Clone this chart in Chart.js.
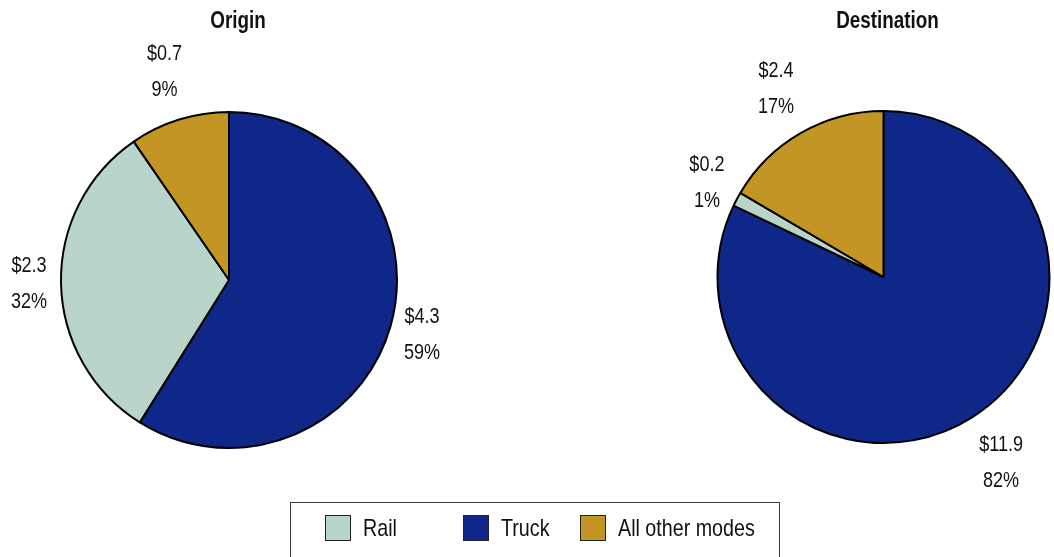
<!DOCTYPE html>
<html><head><meta charset="utf-8">
<script src="https://cdn.jsdelivr.net/npm/chart.js@4.4.0/dist/chart.umd.min.js"></script>
<style>
html,body{margin:0;padding:0;background:#fff;width:1054px;height:557px;overflow:hidden;}
#c1{position:absolute;left:0;top:0;}
#c2{position:absolute;left:527px;top:0;}
#legend{position:absolute;left:290px;top:502px;width:490px;height:70px;border:1px solid #3a3a3a;box-sizing:border-box;
 font-family:"Liberation Sans Narrow","Arial Narrow","Liberation Sans",sans-serif;font-size:24px;color:#111;}
.item{position:absolute;top:12px;height:28px;line-height:28px;}
.sw{position:absolute;left:0;top:0;width:26px;height:26px;border:1px solid #222;box-sizing:border-box;}
.lbl{position:absolute;left:38px;top:-1px;white-space:nowrap;transform:scaleX(0.82);transform-origin:0 50%;}
</style></head>
<body>
<canvas id="c1" width="527" height="557"></canvas>
<canvas id="c2" width="527" height="557"></canvas>
<div id="legend"></div>
<script>
// Data
const modes = ["Truck", "Rail", "All other modes"];
const legendOrder = ["Rail", "Truck", "All other modes"];
const originValues = [4.3, 2.3, 0.7];
const originPct = ["59%", "32%", "9%"];
const destValues = [11.9, 0.2, 2.4];
const destPct = ["82%", "1%", "17%"];
const titles = ["Origin", "Destination"];
const colors = {"Rail": "#B9D5CA", "Truck": "#10278A", "All other modes": "#C39524"};

const FONT = '"Liberation Sans Narrow","Arial Narrow","Liberation Sans",sans-serif';
const SX = 0.82;

function narrowText(ctx, s, x, y) {
  ctx.save();
  ctx.translate(x, y);
  ctx.scale(SX, 1);
  ctx.fillText(s, 0, 0);
  ctx.restore();
}

const labelPlugin = {
  id: 'outLabels',
  afterDatasetsDraw(chart, args, opts) {
    const ctx = chart.ctx;
    const meta = chart.getDatasetMeta(0);
    const ds = chart.data.datasets[0];
    ctx.save();
    ctx.font = '22px ' + FONT;
    ctx.fillStyle = '#111';
    ctx.textAlign = 'center';
    ctx.textBaseline = 'middle';
    let cx = 0;
    meta.data.forEach((arc, i) => {
      const p = arc.getProps(['x','y','startAngle','endAngle','outerRadius'], true);
      cx = p.x;
      const mid = (p.startAngle + p.endAngle) / 2;
      const dx = Math.cos(mid), dy = Math.sin(mid);
      const l1 = '$' + ds.data[i].toFixed(1);
      const l2 = opts.pct[i];
      const hw = SX * Math.max(ctx.measureText(l1).width, ctx.measureText(l2).width) / 2;
      const hh = 34;
      const t = Math.min(Math.abs(dx) > 1e-6 ? hw / Math.abs(dx) : 1e9, Math.abs(dy) > 1e-6 ? hh / Math.abs(dy) : 1e9);
      const d = p.outerRadius + 14 + t;
      const x = p.x + dx * d, y = p.y + dy * d;
      narrowText(ctx, l1, x, y - 18);
      narrowText(ctx, l2, x, y + 18);
    });
    ctx.font = 'bold 23px ' + FONT;
    narrowText(ctx, opts.title, cx + opts.titleDx, 22);
    ctx.restore();
  }
};

function makePie(id, values, pct, title, padding, radius, titleDx) {
  return new Chart(document.getElementById(id), {
    type: 'pie',
    data: {
      labels: modes,
      datasets: [{
        data: values,
        backgroundColor: modes.map(m => colors[m]),
        borderColor: '#000',
        borderWidth: 2
      }]
    },
    options: {
      responsive: false,
      animation: false,
      radius: radius,
      layout: { padding: padding },
      plugins: {
        legend: { display: false },
        tooltip: { enabled: false },
        outLabels: { pct: pct, title: title, titleDx: titleDx }
      }
    },
    plugins: [labelPlugin]
  });
}

makePie('c1', originValues, originPct, titles[0], {left: 0, right: 69, top: 3, bottom: 0}, 168, 9);
makePie('c2', destValues, destPct, titles[1], {left: 186, right: 0, top: 0, bottom: 3}, 166, 4);

// Legend
const lg = document.getElementById('legend');
const xs = [34, 172, 289];
legendOrder.forEach((m, i) => {
  const it = document.createElement('div');
  it.className = 'item';
  it.style.left = xs[i] + 'px';
  it.innerHTML = '<div class="sw" style="background:' + colors[m] + '"></div><div class="lbl">' + m + '</div>';
  lg.appendChild(it);
});
</script>
</body></html>
